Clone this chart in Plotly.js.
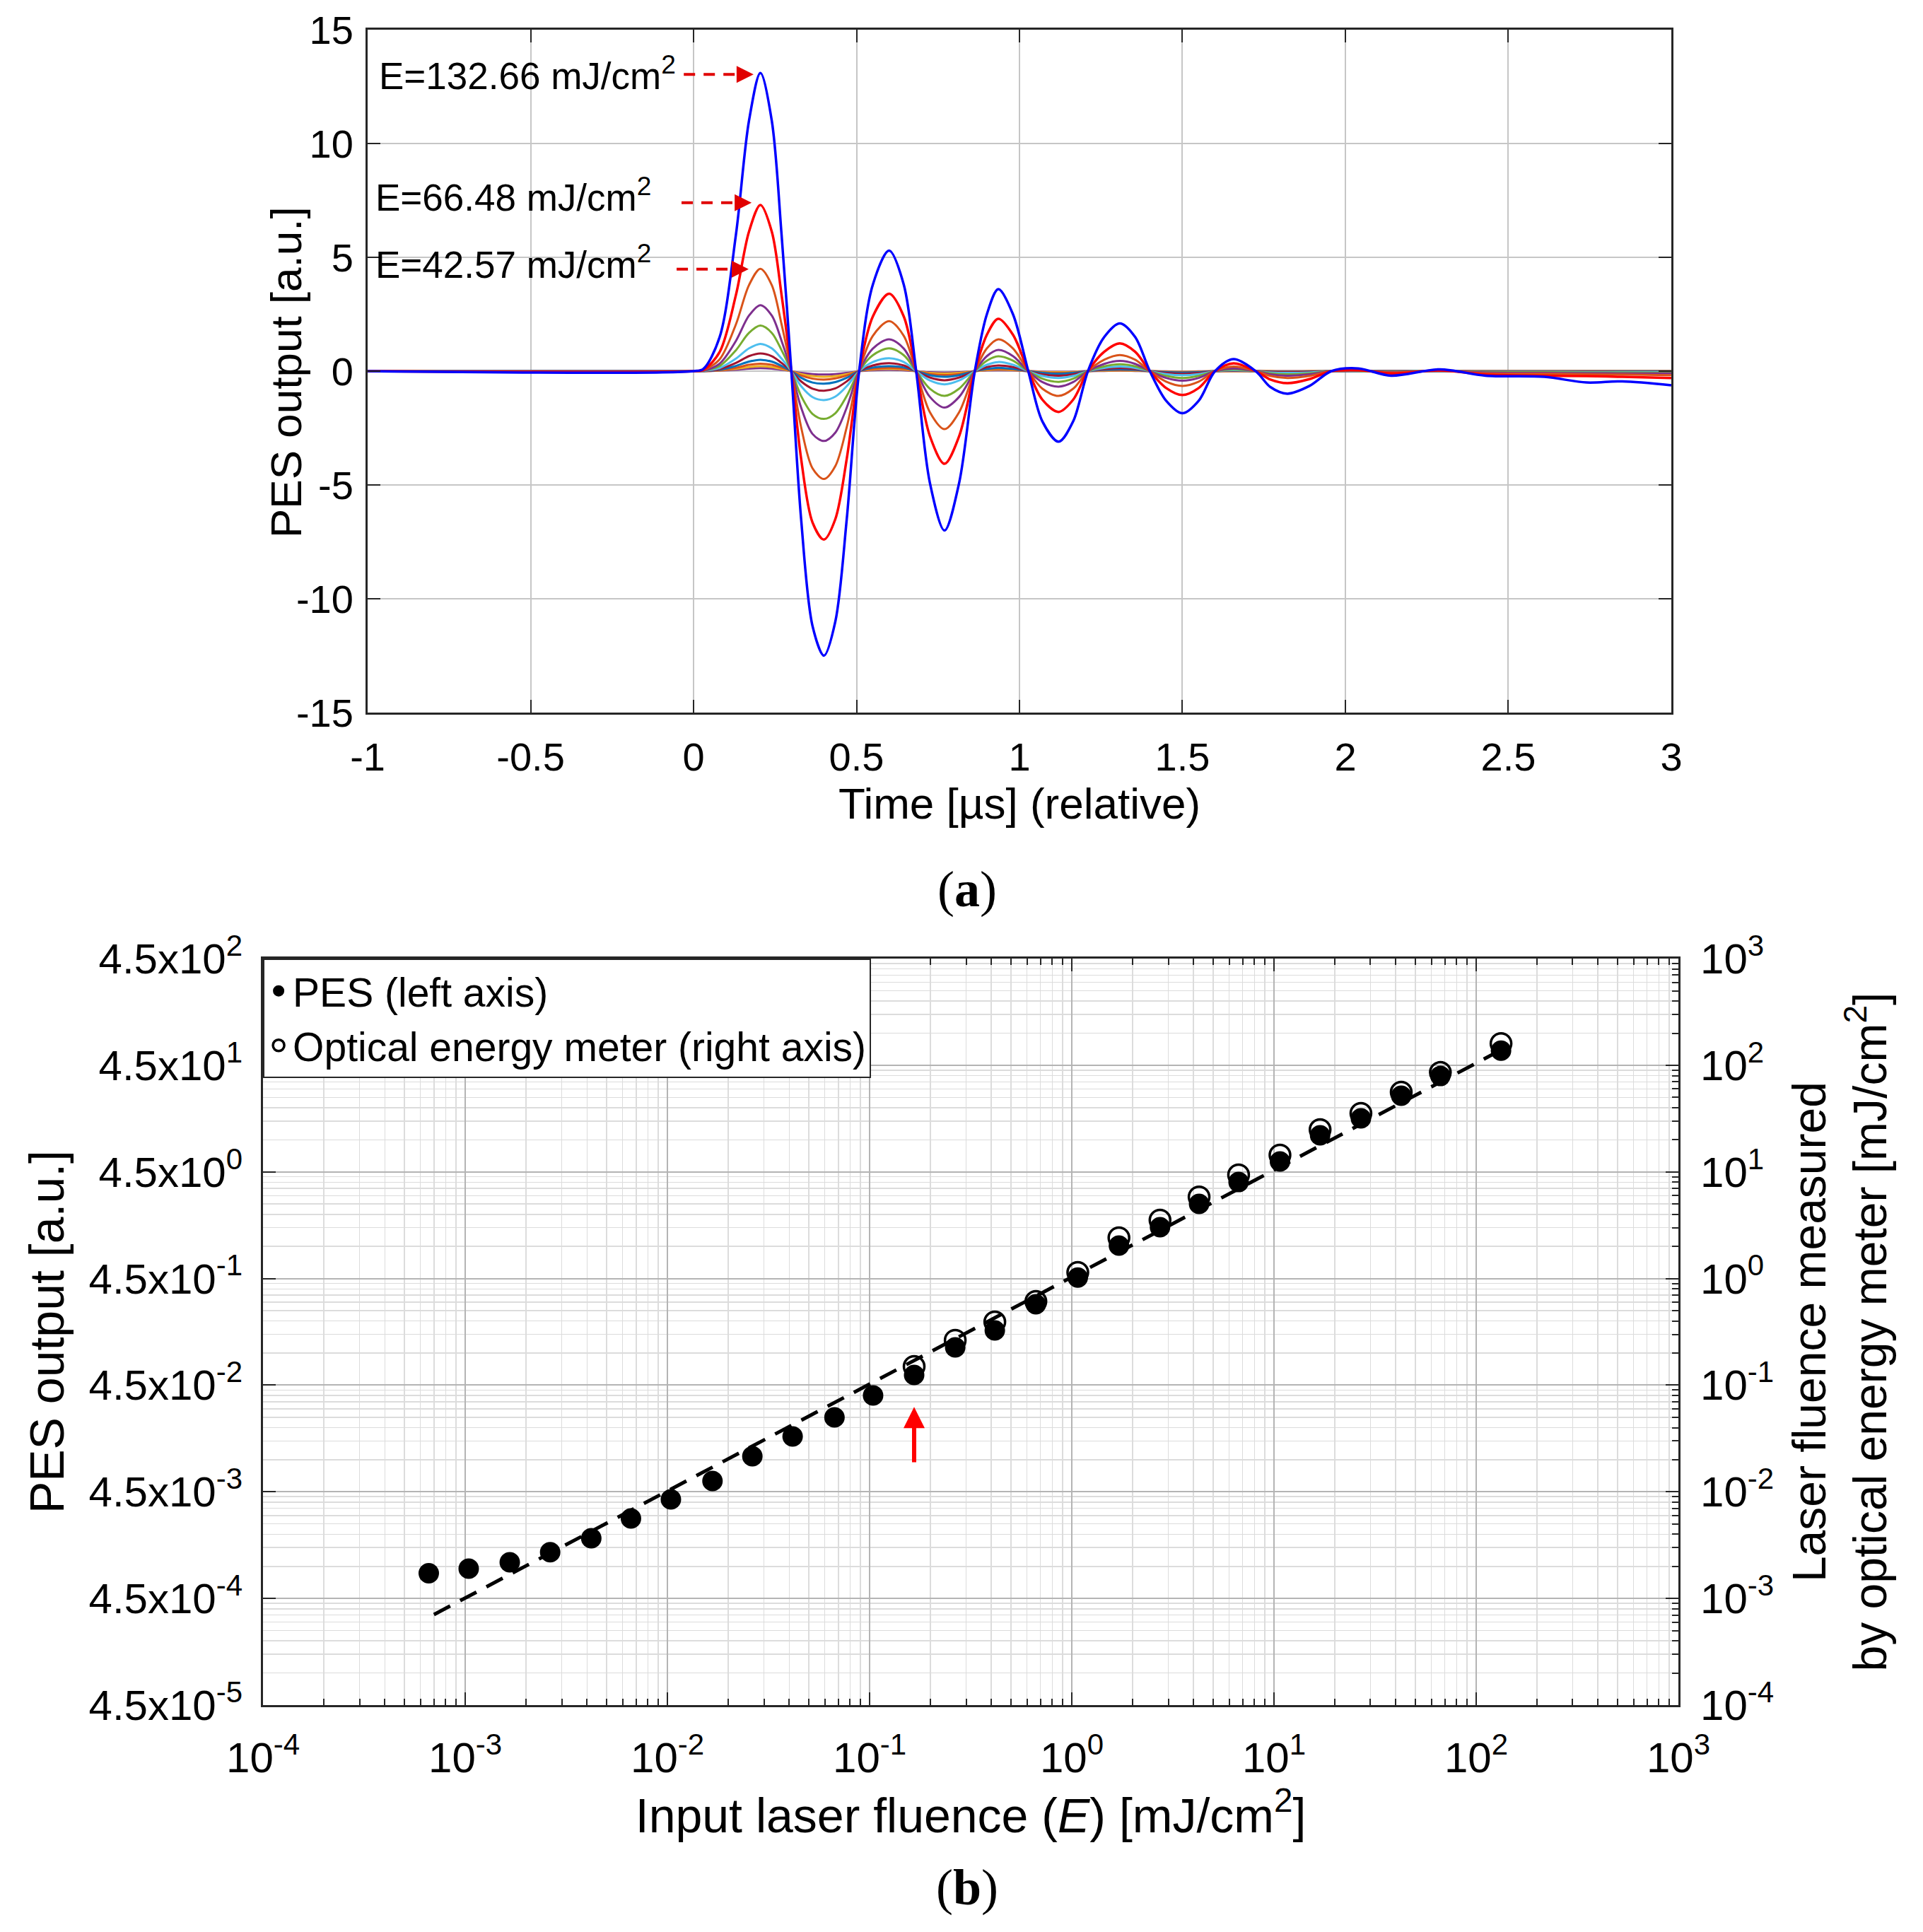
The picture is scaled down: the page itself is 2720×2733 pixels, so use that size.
<!DOCTYPE html>
<html>
<head>
<meta charset="utf-8">
<script src="https://cdn.plot.ly/plotly-3.0.1.min.js"></script>
<style>
  html, body { margin: 0; padding: 0; background: #fff; }
  #chart { width: 2720px; height: 2733px; }
</style>
</head>
<body>
<div id="chart"></div>
<script>
const timeUs = [-1, 0, 0.03, 0.08, 0.13, 0.17, 0.205, 0.24, 0.27, 0.30, 0.33, 0.365, 0.40, 0.435, 0.47, 0.508,
    0.55, 0.60, 0.645, 0.683, 0.725, 0.77, 0.815, 0.863, 0.90, 0.935, 0.98, 1.027, 1.07, 1.12, 1.165, 1.21,
    1.26, 1.308, 1.355, 1.40, 1.45, 1.50, 1.55, 1.60, 1.657, 1.725, 1.77, 1.822, 1.89, 1.957, 2.04, 2.14,
    2.29, 2.43, 2.61, 2.74, 2.85, 3.0];

const waveE13266 = [0, 0, 0.1, 1.5, 6.0, 11.0, 13.1, 11.0, 6.0, 0, -6.5, -11.2, -12.5, -11.0, -6.5, 0,
    3.8, 5.3, 3.8, 0, -4.9, -7.0, -4.9, 0, 2.5, 3.6, 2.5, 0, -2.2, -3.1, -2.2, 0,
    1.5, 2.1, 1.5, 0, -1.3, -1.85, -1.3, 0, 0.53, 0, -0.7, -0.99, -0.65, 0, 0.12, -0.2,
    0.08, -0.2, -0.25, -0.5, -0.45, -0.62];
const waveE6648 = [0, 0, 0.06, 0.84, 3.35, 6.13, 7.3, 6.13, 3.35, 0, -3.85, -6.65, -7.4, -6.5, -3.85, 0,
    2.4, 3.4, 2.4, 0, -2.85, -4.07, -2.85, 0, 1.6, 2.3, 1.6, 0, -1.25, -1.79, -1.25, 0,
    0.85, 1.22, 0.85, 0, -0.74, -1.05, -0.74, 0, 0.34, 0, -0.37, -0.53, -0.35, 0, 0.05, -0.1,
    0.03, -0.15, -0.2, -0.22, -0.25, -0.3];
const waveE4257 = [0, 0, 0.04, 0.52, 2.06, 3.78, 4.5, 3.78, 2.06, 0, -2.46, -4.27, -4.74, -4.17, -2.46, 0,
    1.55, 2.2, 1.55, 0, -1.8, -2.55, -1.8, 0, 1.0, 1.4, 1.0, 0, -0.77, -1.09, -0.77, 0,
    0.5, 0.71, 0.5, 0, -0.46, -0.65, -0.46, 0, 0.2, 0, -0.21, -0.3, -0.21, 0, 0.03, -0.06,
    0.02, -0.1, -0.12, -0.14, -0.15, -0.18];
const waveE2690 = [0, 0, 0.02, 0.33, 1.33, 2.44, 2.9, 2.44, 1.33, 0, -1.6, -2.76, -3.07, -2.7, -1.6, 0,
    0.99, 1.4, 0.99, 0, -1.13, -1.6, -1.13, 0, 0.66, 0.93, 0.66, 0, -0.48, -0.68, -0.48, 0,
    0.32, 0.45, 0.32, 0, -0.3, -0.42, -0.3, 0, 0.12, 0, -0.14, -0.2, -0.14, 0, 0.02, -0.04,
    0.01, -0.06, -0.08, -0.09, -0.1, -0.1];
const waveE1690 = [0, 0, 0.02, 0.23, 0.92, 1.68, 2.0, 1.68, 0.92, 0, -1.09, -1.88, -2.1, -1.85, -1.09, 0,
    0.7, 1.0, 0.7, 0, -0.77, -1.09, -0.77, 0, 0.46, 0.65, 0.46, 0, -0.33, -0.47, -0.33, 0,
    0.21, 0.3, 0.21, 0, -0.21, -0.3, -0.21, 0, 0.08, 0, -0.1, -0.14, -0.1, 0, 0.01, -0.03,
    0.01, -0.04, -0.05, -0.06, -0.06, -0.07];
const waveE1070 = [0, 0, 0.01, 0.14, 0.55, 1.0, 1.2, 1.0, 0.55, 0, -0.66, -1.14, -1.27, -1.12, -0.66, 0,
    0.4, 0.57, 0.4, 0, -0.41, -0.58, -0.41, 0, 0.28, 0.4, 0.28, 0, -0.21, -0.3, -0.21, 0,
    0.14, 0.2, 0.14, 0, -0.13, -0.18, -0.13, 0, 0.05, 0, -0.06, -0.08, -0.06, 0, 0, -0.02,
    0, -0.03, -0.03, -0.04, -0.04, -0.04];
const waveE668 = [0, 0, 0.01, 0.09, 0.36, 0.66, 0.78, 0.66, 0.36, 0, -0.45, -0.77, -0.86, -0.76, -0.45, 0,
    0.25, 0.35, 0.25, 0, -0.28, -0.4, -0.28, 0, 0.18, 0.25, 0.18, 0, -0.14, -0.2, -0.14, 0,
    0.09, 0.13, 0.09, 0, -0.08, -0.12, -0.08, 0, 0.03, 0, -0.035, -0.05, -0.035, 0, 0, -0.01,
    0, -0.02, -0.02, -0.02, -0.03, -0.03];
const waveE426 = [0, 0, 0, 0.06, 0.23, 0.42, 0.5, 0.42, 0.23, 0, -0.29, -0.5, -0.55, -0.48, -0.29, 0,
    0.16, 0.22, 0.16, 0, -0.18, -0.25, -0.18, 0, 0.1, 0.15, 0.1, 0, -0.08, -0.12, -0.08, 0,
    0.06, 0.08, 0.06, 0, -0.05, -0.07, -0.05, 0, 0.02, 0, -0.02, -0.03, -0.02, 0, 0, 0,
    0, -0.01, -0.01, -0.01, -0.01, -0.01];
const waveE273 = [0, 0, 0, 0.04, 0.15, 0.28, 0.33, 0.28, 0.15, 0, -0.19, -0.33, -0.37, -0.32, -0.19, 0,
    0.1, 0.15, 0.1, 0, -0.12, -0.17, -0.12, 0, 0.07, 0.1, 0.07, 0, -0.06, -0.08, -0.06, 0,
    0.04, 0.05, 0.04, 0, -0.03, -0.05, -0.03, 0, 0.01, 0, -0.01, -0.02, -0.01, 0, 0, 0,
    0, 0, 0, 0, 0, 0];
const waveE171 = [0, 0, 0, 0.03, 0.1, 0.18, 0.22, 0.18, 0.1, 0, -0.13, -0.22, -0.25, -0.22, -0.13, 0,
    0.07, 0.1, 0.07, 0, -0.08, -0.11, -0.08, 0, 0.05, 0.07, 0.05, 0, -0.04, -0.05, -0.04, 0,
    0.02, 0.03, 0.02, 0, -0.02, -0.03, -0.02, 0, 0, 0, 0, -0.01, 0, 0, 0, 0,
    0, 0, 0, 0, 0, 0];
const waveE107 = [0, 0, 0, 0.02, 0.06, 0.11, 0.13, 0.11, 0.06, 0, -0.08, -0.13, -0.15, -0.13, -0.08, 0,
    0.04, 0.06, 0.04, 0, -0.05, -0.07, -0.05, 0, 0.03, 0.04, 0.03, 0, -0.02, -0.03, -0.02, 0,
    0.01, 0.02, 0.01, 0, -0.01, -0.02, -0.01, 0, 0, 0, 0, 0, 0, 0, 0, 0,
    0, 0, 0, 0, 0, 0];

// drawn smallest first so the big pulses sit on top
const waves = [waveE107, waveE171, waveE273, waveE426, waveE668, waveE1070, waveE1690, waveE2690, waveE4257, waveE6648, waveE13266];
const waveColors = ['#7E2F8E', '#EDB120', '#D95319', '#0072BD', '#A2142F', '#4DBEEE', '#77AC30', '#7E2F8E', '#D95319', '#FF0000', '#0000FF'];

const labelText = ['E=132.66 mJ/cm<sup>2</sup>', 'E=66.48 mJ/cm<sup>2</sup>', 'E=42.57 mJ/cm<sup>2</sup>'];
const labelRightX = [-0.05, -0.126, -0.126];
const labelY = [13.1, 7.75, 4.8];
const arrowY = [13.04, 7.4, 4.48];
const arrowStartX = [-0.03, -0.037, -0.052];
const arrowTipX = [0.184, 0.178, 0.169];

// (b) fluence sweep
const fluenceIn = [0.00066, 0.00104, 0.00166, 0.00263, 0.0042, 0.0066, 0.0104, 0.0167, 0.0263, 0.0416,
    0.067, 0.104, 0.166, 0.265, 0.416, 0.664, 1.07, 1.71, 2.73, 4.26, 6.68, 10.7, 16.9, 26.9, 42.57, 66.48, 132.66];
const pesOut = [7.75e-4, 8.56e-4, 9.82e-4, 1.22e-3, 1.65e-3, 2.53e-3, 3.82e-3, 5.68e-3, 9.69e-3, 0.0149,
    0.0225, 0.036, 0.0561, 0.1017, 0.1466, 0.258, 0.46, 0.917, 1.362, 2.255, 3.616, 5.64, 9.91, 14.3, 23.3, 35.7, 61.8];
const meterX = [0.166, 0.265, 0.416, 0.664, 1.07, 1.71, 2.73, 4.26, 6.68, 10.7, 16.9, 26.9, 42.57, 66.48, 132.66];
const meterOut = [0.15, 0.264, 0.392, 0.61, 1.14, 2.41, 3.53, 5.83, 9.37, 14.4, 24.9, 35.4, 55.9, 85.7, 160];
const fitX = [0.0007, 123];
const fitY = [0.000706, 129];

const decades = [-4, -3, -2, -1, 0, 1, 2, 3];
const markFluence = 0.166;
const markTail = 0.0185;
const markTip = 0.0626;

const FONT = '"Liberation Sans", Arial, sans-serif';
const SERIF = '"Liberation Serif", "Times New Roman", serif';
const AX = '#262626';

function logMinor() {
    const vals = [];
    for (let n = -4; n < 3; n++) {
        for (let d = 2; d <= 9; d++) vals.push(d * Math.pow(10, n));
    }
    return vals;
}

const traces = waves.map((w, i) => ({
    x: timeUs, y: w, mode: 'lines', xaxis: 'x', yaxis: 'y', showlegend: false,
    line: { color: waveColors[i], width: i >= 9 ? 3.5 : 3, shape: 'spline', smoothing: 0.9 }
}));

traces.push({
    x: fitX, y: fitY, mode: 'lines', xaxis: 'x2', yaxis: 'y3', showlegend: false,
    line: { color: '#000', width: 5, dash: '26px,16px' }
});
traces.push({
    x: fluenceIn, y: pesOut, mode: 'markers', xaxis: 'x2', yaxis: 'y2', name: 'PES (left axis)',
    marker: { color: '#000', size: 29, symbol: 'circle' }
});
traces.push({
    x: meterX, y: meterOut, mode: 'markers', xaxis: 'x2', yaxis: 'y3', name: 'Optical energy meter (right axis)',
    marker: { color: '#000', size: 29, symbol: 'circle-open', line: { width: 3.5, color: '#000' } }
});

const annotations = [];
const shapes = [];
labelText.forEach((t, i) => {
    annotations.push({
        xref: 'x', yref: 'y', x: labelRightX[i], y: labelY[i], text: t, showarrow: false,
        xanchor: 'right', yanchor: 'middle', font: { family: FONT, size: 53, color: '#000' }
    });
    shapes.push({
        type: 'line', xref: 'x', yref: 'y', x0: arrowStartX[i], x1: arrowTipX[i] - 0.02, y0: arrowY[i], y1: arrowY[i],
        line: { color: '#E00000', width: 4, dash: '16px,12px' }
    });
    annotations.push({
        xref: 'x', yref: 'y', x: arrowTipX[i], y: arrowY[i], text: '', showarrow: true,
        ax: -22, ay: 0, arrowhead: 2, arrowsize: 1.2, arrowwidth: 4, arrowcolor: '#E00000'
    });
});
annotations.push({
    xref: 'x2', yref: 'y3', x: Math.log10(markFluence), y: Math.log10(markTip),
    axref: 'x2', ayref: 'y3', ax: Math.log10(markFluence), ay: Math.log10(markTail),
    text: '', showarrow: true, arrowhead: 2, arrowsize: 1, arrowwidth: 6, arrowcolor: '#FF0000'
});
// top panel y title, placed by hand so it sits as close to the tick labels as in the original
annotations.push({
    xref: 'paper', yref: 'paper', x: 0.1485, y: 0.8075, text: 'PES output [a.u.]', textangle: -90,
    showarrow: false, xanchor: 'center', yanchor: 'middle', font: { family: FONT, size: 62, color: '#000' }
});
annotations.push({
    xref: 'paper', yref: 'paper', x: 0.503, y: 0.5397, text: '(<b>a</b>)', showarrow: false,
    xanchor: 'center', yanchor: 'middle', font: { family: SERIF, size: 72, color: '#000' }
});
annotations.push({
    xref: 'paper', yref: 'paper', x: 0.503, y: 0.0231, text: '(<b>b</b>)', showarrow: false,
    xanchor: 'center', yanchor: 'middle', font: { family: SERIF, size: 72, color: '#000' }
});

const common = {
    showline: true, linecolor: AX, linewidth: 3, ticks: 'inside', tickcolor: AX, tickwidth: 2,
    zeroline: false, automargin: false
};

const layout = {
    width: 2720, height: 2733,
    margin: { l: 0, r: 0, t: 0, b: 0 },
    paper_bgcolor: '#fff', plot_bgcolor: '#fff',
    font: { family: FONT, color: '#000' },
    showlegend: true,
    legend: {
        x: 0.1368, y: 0.5038, xanchor: 'left', yanchor: 'top',
        bgcolor: '#fff', bordercolor: AX, borderwidth: 2,
        font: { family: FONT, size: 57, color: '#000' }, itemsizing: 'trace'
    },
    xaxis: Object.assign({}, common, {
        domain: [0.1912, 0.8691], anchor: 'y', range: [-1, 3], mirror: 'ticks', ticklen: 18,
        tickvals: [-1, -0.5, 0, 0.5, 1, 1.5, 2, 2.5, 3], ticktext: ['-1', '-0.5', '0', '0.5', '1', '1.5', '2', '2.5', '3'],
        showgrid: true, gridcolor: '#c6c6c6', gridwidth: 2,
        tickfont: { size: 56 }, ticklabelstandoff: 12,
        title: { text: 'Time [µs] (relative)', font: { size: 62 }, standoff: 4 }
    }),
    yaxis: Object.assign({}, common, {
        domain: [0.6312, 0.9846], anchor: 'x', range: [-15, 15], mirror: 'ticks', ticklen: 18,
        tickvals: [-15, -10, -5, 0, 5, 10, 15], ticktext: ['-15', '-10', '-5', '0', '5', '10', '15'],
        showgrid: true, gridcolor: '#c6c6c6', gridwidth: 2,
        tickfont: { size: 56 }, ticklabelstandoff: 6
    }),
    xaxis2: Object.assign({}, common, {
        type: 'log', domain: [0.1368, 0.8728], anchor: 'y2', range: [-4, 3], mirror: 'ticks', ticklen: 18,
        tickvals: decades.map(n => Math.pow(10, n)), ticktext: decades.map(n => '10<sup>' + n + '</sup>'),
        showgrid: true, gridcolor: '#b4b4b4', gridwidth: 2,
        minor: { tickvals: logMinor(), ticks: 'inside', ticklen: 9, tickcolor: AX, showgrid: true, gridcolor: '#dcdcdc', gridwidth: 1.5 },
        tickfont: { size: 60 }, ticklabelstandoff: 20,
        title: { text: 'Input laser fluence (<i>E</i>) [mJ/cm<sup>2</sup>]', font: { size: 68 }, standoff: 14 }
    }),
    yaxis2: Object.assign({}, common, {
        type: 'log', domain: [0.11745, 0.5038], anchor: 'x2',
        range: [Math.log10(4.5e-5), Math.log10(450)], ticklen: 18,
        tickvals: decades.map(n => 4.5 * Math.pow(10, n - 1)),
        ticktext: decades.map(n => '4.5x10<sup>' + (n - 1) + '</sup>'),
        showgrid: false, tickfont: { size: 60 }, ticklabelstandoff: 14,
        title: { text: 'PES output [a.u.]', font: { size: 68 }, standoff: 13 }
    }),
    yaxis3: Object.assign({}, common, {
        type: 'log', overlaying: 'y2', side: 'right', anchor: 'x2', range: [-4, 3], ticklen: 18,
        tickvals: decades.map(n => Math.pow(10, n)), ticktext: decades.map(n => '10<sup>' + n + '</sup>'),
        showgrid: true, gridcolor: '#b4b4b4', gridwidth: 2,
        minor: { tickvals: logMinor(), ticks: 'inside', ticklen: 9, tickcolor: AX, showgrid: true, gridcolor: '#dcdcdc', gridwidth: 1.5 },
        tickfont: { size: 60 }, ticklabelstandoff: 16,
        title: { text: 'Laser fluence measured<br>by optical energy meter [mJ/cm<sup>2</sup>]', font: { size: 66 }, standoff: 28 }
    }),
    annotations: annotations,
    shapes: shapes
};

Plotly.newPlot('chart', traces, layout, { staticPlot: true, displayModeBar: false });
</script>
</body>
</html>
